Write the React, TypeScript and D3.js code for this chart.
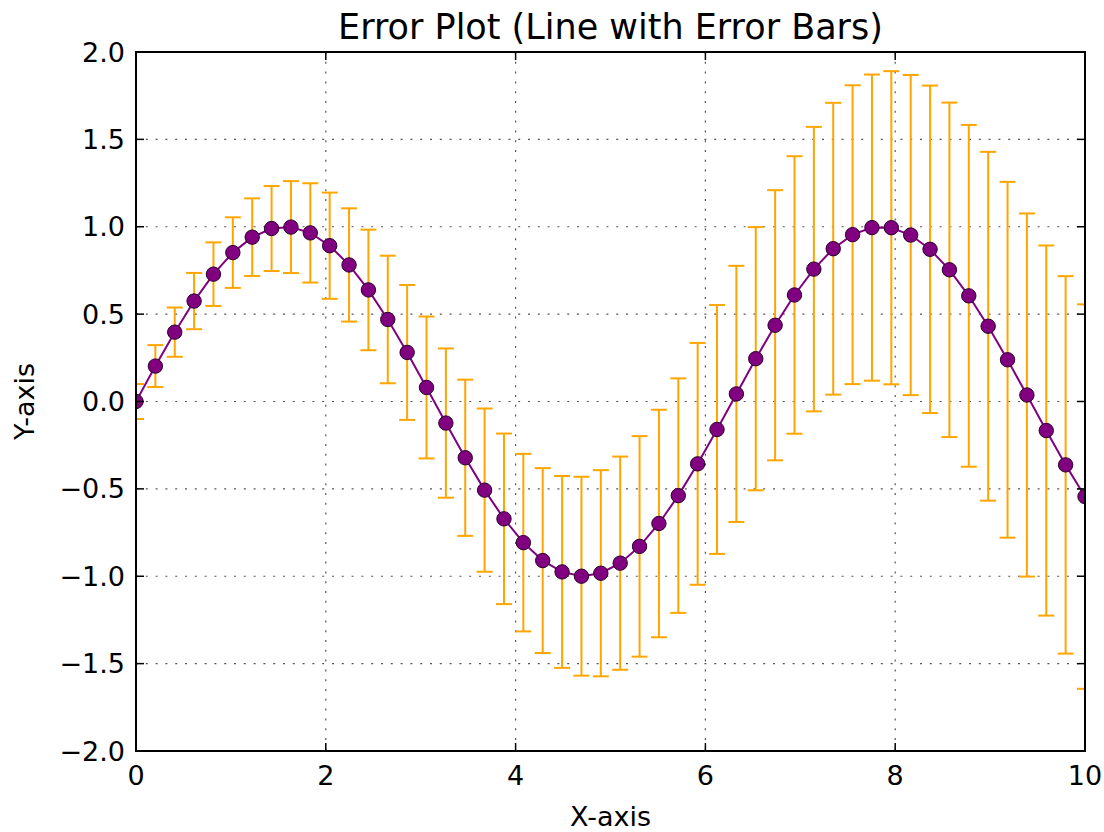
import React from "react";
import * as d3 from "d3";

// x positions (50 evenly spaced samples over 0..10)
const xValues = [
  0.0, 0.2041, 0.4082, 0.6122, 0.8163, 1.0204, 1.2245, 1.4286, 1.6327, 1.8367,
  2.0408, 2.2449, 2.449, 2.6531, 2.8571, 3.0612, 3.2653, 3.4694, 3.6735, 3.8776,
  4.0816, 4.2857, 4.4898, 4.6939, 4.898, 5.102, 5.3061, 5.5102, 5.7143, 5.9184,
  6.1224, 6.3265, 6.5306, 6.7347, 6.9388, 7.1429, 7.3469, 7.551, 7.7551, 7.9592,
  8.1633, 8.3673, 8.5714, 8.7755, 8.9796, 9.1837, 9.3878, 9.5918, 9.7959, 10.0,
];
// y values of the purple line
const yValues = [
  0.0, 0.2027, 0.3969, 0.5747, 0.7287, 0.8521, 0.9404, 0.9899, 0.9981, 0.9648,
  0.8916, 0.7814, 0.6385, 0.4693, 0.2807, 0.0803, -0.1234, -0.322, -0.5072, -0.6714,
  -0.8076, -0.9103, -0.9752, -0.9998, -0.9828, -0.9251, -0.8291, -0.6982, -0.5386, -0.3568,
  -0.1601, 0.0433, 0.2449, 0.4363, 0.6096, 0.7576, 0.8743, 0.9546, 0.9951, 0.9945,
  0.9525, 0.8709, 0.7536, 0.6047, 0.4306, 0.2388, 0.0371, -0.1662, -0.3627, -0.544,
];
// symmetric error half-widths
const errValues = [
  0.1, 0.12, 0.141, 0.161, 0.182, 0.202, 0.222, 0.243, 0.263, 0.284,
  0.304, 0.324, 0.345, 0.365, 0.386, 0.406, 0.427, 0.447, 0.467, 0.488,
  0.508, 0.529, 0.549, 0.569, 0.59, 0.61, 0.631, 0.651, 0.671, 0.692,
  0.712, 0.733, 0.753, 0.773, 0.794, 0.814, 0.835, 0.855, 0.876, 0.896,
  0.916, 0.937, 0.957, 0.978, 0.998, 1.018, 1.039, 1.059, 1.08, 1.1,
];
const xTicks = [0, 2, 4, 6, 8, 10];
const yTicks = [-2.0, -1.5, -1.0, -0.5, 0.0, 0.5, 1.0, 1.5, 2.0];

const W = 1104;
const H = 832;
const L = 136;
const R = 1085;
const T = 52;
const B = 751;
const FONT = "DejaVu Sans";

export default function App() {
  const x = d3.scaleLinear().domain([0, 10]).range([L, R]);
  const y = d3.scaleLinear().domain([-2, 2]).range([B, T]);
  const fmtY = d3.format(".1f");
  const line = d3
    .line<number>()
    .x((_, i) => x(xValues[i]))
    .y((d) => y(d));
  const cap = 8;
  const tickLen = 8;

  return (
    <svg
      width={W}
      height={H}
      style={{ position: "absolute", left: 0, top: 0, background: "#fff" }}
      fontFamily={FONT}
    >
      <defs>
        <clipPath id="plotclip">
          <rect x={L} y={T} width={R - L} height={B - T} />
        </clipPath>
      </defs>
      <rect x={0} y={0} width={W} height={H} fill="#fff" />
      {/* grid */}
      <g stroke="#555" strokeWidth={1.2} strokeDasharray="2,7.8">
        {xTicks.map((t) => (
          <line key={"gx" + t} x1={x(t)} x2={x(t)} y1={T} y2={B} />
        ))}
        {yTicks.map((t) => (
          <line key={"gy" + t} x1={L} x2={R} y1={y(t)} y2={y(t)} />
        ))}
      </g>
      <g clipPath="url(#plotclip)">
        {/* error bars */}
        <g stroke="#FFA500" strokeWidth={2}>
          {yValues.map((v, i) => {
            const cx = x(xValues[i]);
            const lo = y(v - errValues[i]);
            const hi = y(v + errValues[i]);
            return (
              <g key={"e" + i}>
                <line x1={cx} x2={cx} y1={lo} y2={hi} />
                <line x1={cx - cap} x2={cx + cap} y1={lo} y2={lo} />
                <line x1={cx - cap} x2={cx + cap} y1={hi} y2={hi} />
              </g>
            );
          })}
        </g>
        <path d={line(yValues) || ""} fill="none" stroke="#800080" strokeWidth={2} />
        {yValues.map((v, i) => (
          <circle
            key={"m" + i}
            cx={x(xValues[i])}
            cy={y(v)}
            r={7.2}
            fill="#800080"
            stroke="#2a002a"
            strokeWidth={1}
          />
        ))}
      </g>
      {/* ticks inside, all sides */}
      <g stroke="#000" strokeWidth={1.5}>
        {xTicks.map((t) => (
          <g key={"tx" + t}>
            <line x1={x(t)} x2={x(t)} y1={B} y2={B - tickLen} />
            <line x1={x(t)} x2={x(t)} y1={T} y2={T + tickLen} />
          </g>
        ))}
        {yTicks.map((t) => (
          <g key={"ty" + t}>
            <line x1={L} x2={L + tickLen} y1={y(t)} y2={y(t)} />
            <line x1={R} x2={R - tickLen} y1={y(t)} y2={y(t)} />
          </g>
        ))}
      </g>
      {/* frame */}
      <rect x={L} y={T} width={R - L} height={B - T} fill="none" stroke="#000" strokeWidth={2} />
      {/* tick labels */}
      <g fontSize={27} fill="#000">
        {xTicks.map((t) => (
          <text key={"lx" + t} x={x(t)} y={785} textAnchor="middle">
            {String(t)}
          </text>
        ))}
        {yTicks.map((t) => (
          <text key={"ly" + t} x={125} y={y(t)} textAnchor="end" dominantBaseline="central">
            {fmtY(t)}
          </text>
        ))}
      </g>
      <text x={(L + R) / 2} y={39} textAnchor="middle" fontSize={35} fill="#000">
        Error Plot (Line with Error Bars)
      </text>
      <text x={(L + R) / 2} y={826} textAnchor="middle" fontSize={27} fill="#000">
        X-axis
      </text>
      <text
        transform={`translate(24, ${(T + B) / 2}) rotate(-90)`}
        textAnchor="middle"
        dominantBaseline="central"
        fontSize={27}
        fill="#000"
      >
        Y-axis
      </text>
    </svg>
  );
}
